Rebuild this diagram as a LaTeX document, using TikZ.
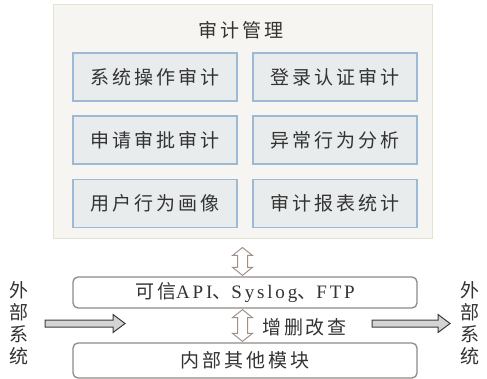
\documentclass[tikz,border=0pt]{standalone}
\usepackage{fontspec}
\setmainfont{Liberation Serif}
\newfontfamily\cjk[LetterSpace=15]{Noto Sans CJK SC}
\newfontfamily\lat[LetterSpace=15]{Liberation Serif}
\usetikzlibrary{calc}
\definecolor{outerf}{HTML}{F6F5F1}
\definecolor{outerc}{HTML}{E3E3D2}
\definecolor{modf}{HTML}{E9ECEC}
\definecolor{modc}{HTML}{9CB9D5}
\definecolor{layc}{HTML}{8E8A86}
\definecolor{varc}{HTML}{A0908A}
\definecolor{harc}{HTML}{3C3C3C}
\definecolor{harf}{HTML}{D4D4D4}
\definecolor{txtc}{HTML}{333333}
\newcommand\vdarrow[2]{\path[varrow] let \p1=(#1), \p2=(#2) in
  (\x1,\y1) -- (\x1+10pt,\y1-8pt) -- (\x1+5pt,\y1-8pt) -- (\x1+5pt,\y2+8pt) -- (\x1+10pt,\y2+8pt) -- (\x1,\y2) -- (\x1-10pt,\y2+8pt) -- (\x1-5pt,\y2+8pt) -- (\x1-5pt,\y1-8pt) -- (\x1-10pt,\y1-8pt) -- cycle;}
\newcommand\hsarrow[2]{\path[harrow] let \p1=(#1), \p2=(#2) in
  (\x1,\y1+3.5pt) -- (\x2-12pt,\y1+3.5pt) -- (\x2-12pt,\y1+9pt) -- (\x2,\y1) -- (\x2-12pt,\y1-9pt) -- (\x2-12pt,\y1-3.5pt) -- (\x1,\y1-3.5pt) -- cycle;}
\begin{document}
\begin{tikzpicture}[x=1pt,y=-1pt,
  txt/.style={font=\fontsize{19}{22}\selectfont\cjk, text=txtc, inner sep=0pt},
  outerbox/.style={draw=outerc, fill=outerf, line width=1pt, minimum width=379pt, minimum height=234pt, inner sep=0pt},
  modbox/.style={draw=modc, fill=modf, line width=1.2pt, minimum width=164pt, minimum height=48pt, txt},
  layerbox/.style={draw=layc, line width=1.3pt, rounded corners=5pt, fill=white, minimum width=344pt, txt},
  varrow/.style={draw=varc, fill=white, line width=1pt, line join=miter},
  harrow/.style={draw=harc, fill=harf, line width=1pt, line join=miter},
  ext/.style={txt, align=center}]
\useasboundingbox (0,0) rectangle (487,379);
\fill[white] (0,0) rectangle (487,379);
\node[outerbox] (outer) at (242.5,122) {};
\node[txt] (title) at (241,30) {审计管理};
\node[modbox] (m1) at (155,77) {系统操作审计};
\node[modbox] (m2) at (335,77) {登录认证审计};
\node[modbox] (m3) at (155,140) {申请审批审计};
\node[modbox] (m4) at (335,140) {异常行为分析};
\node[modbox] (m5) at (155,203.5) {用户行为画像};
\node[modbox] (m6) at (335,203.5) {审计报表统计};
\node[layerbox, minimum height=31pt] (lay1) at (245,292.5) {可信{\lat API}、{\lat Syslog}、{\lat FTP}};
\node[layerbox, minimum height=35pt] (lay2) at (245,360.5) {内部其他模块};
\node[txt] (crud) at (304.5,327) {增删改查};
\node[ext] (extL) at (19,323) {外\\部\\系\\统};
\node[ext] (extR) at (470,323) {外\\部\\系\\统};
\coordinate (va1) at ([yshift=-8pt]outer.south);
\coordinate (va2) at ([yshift=1pt]lay1.north -| va1);
\coordinate (vb1) at ([yshift=-1pt]lay1.south -| va1);
\coordinate (vb2) at ([yshift=1pt]lay2.north -| va1);
\vdarrow{va1}{va2}
\vdarrow{vb1}{vb2}
\coordinate (hl1) at (45,323.5);
\coordinate (hl2) at (125,323.5);
\coordinate (hr1) at (372,323.5);
\coordinate (hr2) at (450,323.5);
\hsarrow{hl1}{hl2}
\hsarrow{hr1}{hr2}
\end{tikzpicture}
\end{document}
